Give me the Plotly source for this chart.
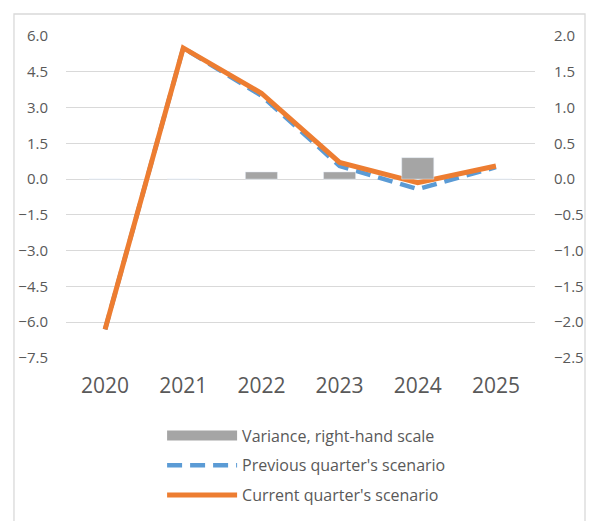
import plotly.graph_objects as go

years = ["2020", "2021", "2022", "2023", "2024", "2025"]
previous = [-6.3, 5.5, 3.5, 0.55, -0.42, 0.5]
current = [-6.3, 5.5, 3.6, 0.7, -0.15, 0.55]
variance = [0.0, 0.0, 0.1, 0.1, 0.3, 0.0]

left_ticks = [-7.5, -6.0, -4.5, -3.0, -1.5, 0.0, 1.5, 3.0, 4.5, 6.0]
right_ticks = [-2.5, -2.0, -1.5, -1.0, -0.5, 0.0, 0.5, 1.0, 1.5, 2.0]

GREY_TXT = "#595959"
GRID = "#d9d9d9"
BAR = "#a5a5a5"
BLUE = "#5b9bd5"
ORANGE = "#ed7d31"
FONT = "Open Sans"

fig = go.Figure()

# bars on right-hand scale
fig.add_trace(go.Bar(x=years, y=variance, yaxis="y2", marker_color=BAR,
                     showlegend=False, legendgroup="var"))
# legend swatch for the bars (wide grey block like the original)
fig.add_trace(go.Scatter(x=[None], y=[None], mode="lines", name="Variance, right-hand scale",
                         line=dict(color=BAR, width=10), legendgroup="var"))
fig.add_trace(go.Scatter(x=years, y=previous, mode="lines", name="Previous quarter's scenario",
                         line=dict(color=BLUE, width=4.5, dash="15px,8px"), legendgroup="prev"))
fig.add_trace(go.Scatter(x=years, y=current, mode="lines", name="Current quarter's scenario",
                         line=dict(color=ORANGE, width=5), legendgroup="cur"))

fig.update_layout(
    width=590, height=521,
    margin=dict(l=66, r=55, t=36, b=163.3, autoexpand=False),
    paper_bgcolor="white", plot_bgcolor="white",
    font=dict(family=FONT, color=GREY_TXT, size=15),
    bargap=0.59,
    xaxis=dict(showgrid=False, showline=False, ticks="", tickfont=dict(size=21),
               ticklabelstandoff=13, automargin=False),
    yaxis=dict(range=[-7.5, 6.0], tickvals=left_ticks, tickformat=".1f",
               showgrid=True, gridcolor=GRID, gridwidth=1.3, zeroline=False,
               showline=False, ticks="", ticklabelstandoff=17, automargin=False),
    yaxis2=dict(range=[-2.5, 2.0], tickvals=right_ticks, tickformat=".1f",
                overlaying="y", side="right", showgrid=False, zeroline=False,
                showline=False, ticks="", ticklabelstandoff=18, automargin=False),
    legend=dict(orientation="v", x=0.513, xanchor="center", y=-0.188, yanchor="top",
                itemwidth=70, tracegroupgap=6, font=dict(size=16),
                traceorder="grouped"),
    shapes=[dict(type="rect", xref="paper", yref="paper",
                 x0=-0.1109, x1=1.1066, y0=-0.6, y1=1.0684,
                 line=dict(color=GRID, width=1.3), layer="below")],
)

# drop the default page margin so the figure fills the window exactly
fig.write_html("out.html", config={"displayModeBar": False},
               post_script="document.body.style.margin='0';")
